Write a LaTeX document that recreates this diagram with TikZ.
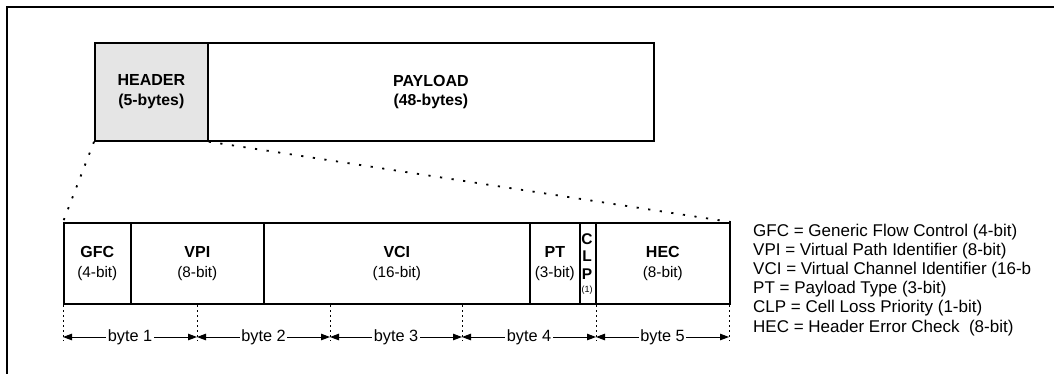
\documentclass[tikz,border=0pt]{standalone}
\usepackage{fontspec}
\setmainfont{Liberation Sans}
\usetikzlibrary{arrows.meta}
\begin{document}
\begin{tikzpicture}[x=1pt,y=-1pt,
  cell/.style={draw,line width=1.7pt,inner sep=0pt,anchor=north west,align=center,minimum height=81pt,font=\fontsize{15.3}{19.5}\selectfont},
  big/.style={draw,line width=1.7pt,inner sep=0pt,anchor=north west,align=center,minimum height=98pt,font=\fontsize{15.8}{19.5}\selectfont},
  dots/.style={line width=1.8pt,dash pattern=on 2.2pt off 9.5pt},
  tick/.style={line width=0.8pt,dash pattern=on 1.5pt off 3.5pt},
  span/.style={line width=1pt,{Triangle[length=9pt,width=6.5pt]}-{Triangle[length=9pt,width=6.5pt]}},
  blab/.style={fill=white,inner sep=1.5pt,font=\fontsize{16.3}{18}\selectfont},
  leg/.style={anchor=base west,inner sep=0pt,font=\fontsize{17}{19}\selectfont},
  ltr/.style={inner sep=0pt,font=\fontsize{15.5}{17}\selectfont\bfseries}
]
\newcommand{\lbl}[2]{{\fontsize{16}{19.5}\selectfont\bfseries #1}\\#2}
\useasboundingbox (0,0) rectangle (1054,373);
\clip (0,0) rectangle (1054,373);
% frame
\draw[line width=2pt] (7,400) |- (1100,7);
% top boxes
\node[big,fill=black!10,minimum width=113pt] (hdr) at (94,42) {\lbl{HEADER}{\bfseries(5-bytes)}};
\node[big,minimum width=446pt] (pay) at (207,42) {\lbl{PAYLOAD}{\bfseries(48-bytes)}};
% bottom cells
\node[cell,minimum width=67pt] (gfc) at (63,222) {\lbl{GFC}{(4-bit)}};
\node[cell,minimum width=133pt] (vpi) at (130,222) {\lbl{VPI}{(8-bit)}};
\node[cell,minimum width=266pt] (vci) at (263,222) {\lbl{VCI}{(16-bit)}};
\node[cell,minimum width=50pt] (pt) at (529,222) {\lbl{PT}{(3-bit)}};
\node[cell,minimum width=16pt] (clp) at (579,222) {};
\node[cell,minimum width=134pt] (hec) at (595,222) {\lbl{HEC}{(8-bit)}};
\node[ltr] (clpc) at (587,239) {C};
\node[ltr] (clpl) at (587,256.5) {L};
\node[ltr] (clpp) at (587,274) {P};
\node[inner sep=0pt,font=\fontsize{9}{10}\selectfont] (clpn) at (587,290) {(1)};
% zoom connectors
\draw[dots] (hdr.south west) -- (gfc.north west);
\draw[dots] (hdr.south east) -- (hec.north east);
% byte ticks and spans
\foreach \i/\x in {0/63,1/197,2/330,3/462,4/596,5/729}{
  \coordinate (t\i) at (\x,305);
  \coordinate (b\i) at (\x,341);
  \coordinate (a\i) at (\x,337);
  \draw[tick] (t\i) -- (b\i);
}
\draw[span] (a0) -- node[blab] (by1) {byte 1} (a1);
\draw[span] (a1) -- node[blab] (by2) {byte 2} (a2);
\draw[span] (a2) -- node[blab] (by3) {byte 3} (a3);
\draw[span] (a3) -- node[blab] (by4) {byte 4} (a4);
\draw[span] (a4) -- node[blab] (by5) {byte 5} (a5);
% legend
\node[leg] (l1) at (753,236.5) {GFC = Generic Flow Control (4-bit)};
\node[leg] (l2) at (753,255.6) {VPI = Virtual Path Identifier (8-bit)};
\node[leg] (l3) at (753,274.7) {VCI = Virtual Channel Identifier (16-b};
\node[leg] (l4) at (753,293.8) {PT = Payload Type (3-bit)};
\node[leg] (l5) at (753,312.9) {CLP = Cell Loss Priority (1-bit)};
\node[leg] (l6) at (753,332) {HEC = Header Error Check\ \ (8-bit)};
\end{tikzpicture}
\end{document}
